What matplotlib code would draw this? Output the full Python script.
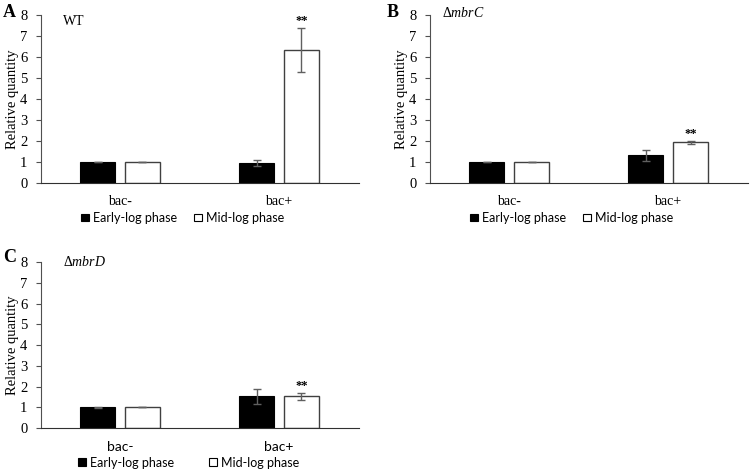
import matplotlib
matplotlib.use('Agg')
import matplotlib.pyplot as plt
import numpy as np

plt.rcParams['font.family'] = 'Liberation Serif'
plt.rcParams['mathtext.fontset'] = 'custom'
plt.rcParams['mathtext.rm'] = 'Liberation Serif'
plt.rcParams['mathtext.it'] = 'Liberation Serif:italic'

# 数据
categories = ['bac-', 'bac+']
series = ['Early-log phase', 'Mid-log phase']
panels = ['A', 'B', 'C']
strains = ['WT', r'$\Delta\mathit{mbrC}$', r'$\Delta\mathit{mbrD}$']
early = [[1.0, 0.95], [1.0, 1.32], [1.0, 1.53]]
early_err = [[0.01, 0.14], [0.01, 0.26], [0.01, 0.38]]
mid = [[1.0, 6.33], [1.0, 1.93], [1.0, 1.53]]
mid_err = [[0.0, 1.05], [0.0, 0.09], [0.0, 0.17]]
stars = [[None, '**'], [None, '**'], [None, '**']]
yticks = [0, 1, 2, 3, 4, 5, 6, 7, 8]

fig = plt.figure(figsize=(7.5, 4.71), dpi=100)
# 面板位置
rects = [[0.054, 0.6115, 0.424, 0.3567],
         [0.5727, 0.6115, 0.424, 0.3567],
         [0.054, 0.0907, 0.424, 0.353]]
strain_pos = [(0.07, 7.67), (0.04, 8.1), (0.07, 8.0)]
letter_pos = [(0.004, 0.991), (0.515, 0.991), (0.004, 0.472)]
sans_cat = [False, False, True]
legend_x = [0.447, 0.447, 0.467]
legend_gap = [1.35, 1.35, 2.8]

x = np.arange(len(categories))
w = 0.22
off = 0.1415
for i in range(3):
    ax = fig.add_axes(rects[i])
    ax.bar(x - off, early[i], w, color='black', edgecolor='black', linewidth=0.8,
           label=series[0])
    ax.errorbar(x - off, early[i], yerr=early_err[i], fmt='none', ecolor='#606060',
                elinewidth=1, capsize=3, capthick=1)
    ax.bar(x + off, mid[i], w, color='white', edgecolor='#404040', linewidth=1,
           label=series[1])
    ax.errorbar(x + off, mid[i], yerr=mid_err[i], fmt='none', ecolor='#606060',
                elinewidth=1, capsize=3, capthick=1)
    for j in range(len(categories)):
        if stars[i][j]:
            ax.text(x[j] + off, mid[i][j] + mid_err[i][j] + 0.05, stars[i][j],
                    ha='center', va='bottom', fontsize=9, fontweight='bold')
    ax.set_xlim(-0.5, 1.5)
    ax.set_ylim(0, 8)
    ax.set_yticks(yticks)
    ax.set_xticks(x)
    if sans_cat[i]:
        ax.set_xticklabels(categories, fontsize=10, fontfamily='Lato')
    else:
        ax.set_xticklabels(categories, fontsize=10)
    ax.tick_params(axis='x', length=0, pad=9)
    ax.tick_params(axis='y', length=3.5, width=0.8, color='#505050', labelsize=10.5, pad=6)
    ax.spines['top'].set_visible(False)
    ax.spines['right'].set_visible(False)
    ax.spines['left'].set_color('#505050')
    ax.spines['bottom'].set_color('#303030')
    ax.set_ylabel('Relative quantity', fontsize=10.5, va='center')
    ax.yaxis.set_label_coords(-0.088, 0.5)
    ax.text(strain_pos[i][0], strain_pos[i][1], strains[i], transform=ax.get_yaxis_transform(),
            ha='left', va='center', fontsize=10)
    fig.text(letter_pos[i][0], letter_pos[i][1], panels[i], fontsize=13, fontweight='bold',
             ha='left', va='top')
    leg = ax.legend(loc='center', bbox_to_anchor=(legend_x[i], -0.208), ncol=2, frameon=False,
                    handlelength=0.6, handleheight=0.6, handletextpad=0.35,
                    columnspacing=legend_gap[i], borderpad=0.1,
                    prop={'family': 'Lato', 'size': 9})
    for h in leg.legend_handles:
        h.set_linewidth(0.8)
        h.set_edgecolor('black')

fig.savefig('out.png', dpi=100)
